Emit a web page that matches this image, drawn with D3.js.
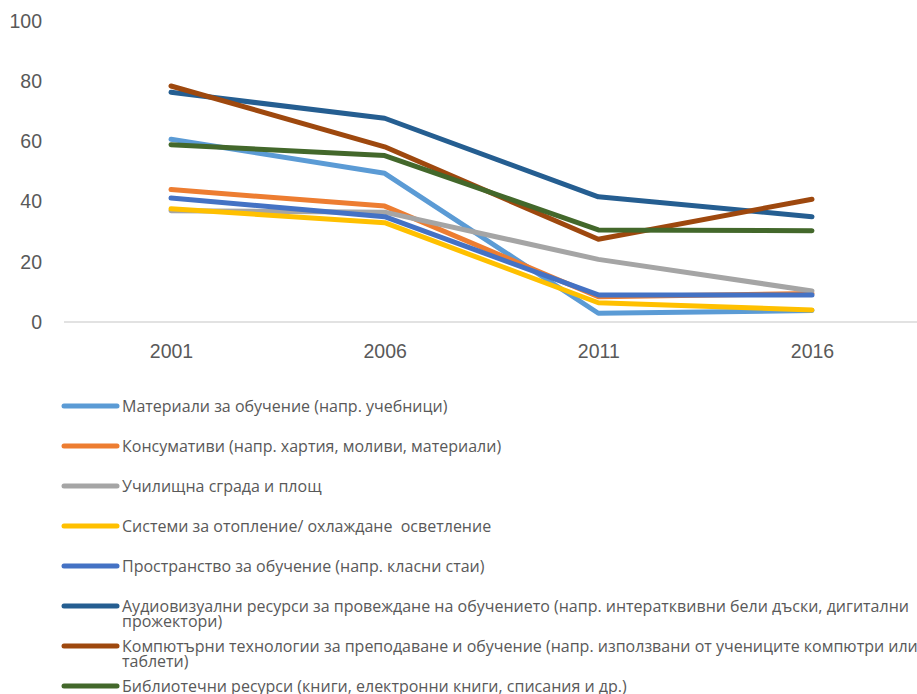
<!DOCTYPE html>
<html>
<head>
<meta charset="UTF-8">
<title>Line chart</title>
<style>
  body { margin: 0; background: #fff; }
  svg { display: block; font-family: "Open Sans", "Liberation Sans", Arial, sans-serif; }
  .axis text { fill: #595959; font-size: 19.5px; }
  .legend text { fill: #595959; font-size: 16px; white-space: pre; }
</style>
</head>
<body>
<script src="https://cdn.jsdelivr.net/npm/d3@7"></script>
<script>
// categories on the x axis
var years = ["2001", "2006", "2011", "2016"];
var yTicks = [0, 20, 40, 60, 80, 100];

// series values
var materials   = [60.7, 49.4, 2.9, 3.8];
var consumables = [44.0, 38.5, 8.4, 9.5];
var building    = [37.0, 36.5, 20.8, 10.3];
var heating     = [37.6, 33.0, 6.4, 4.0];
var space       = [41.2, 35.0, 9.0, 9.0];
var audiovisual = [76.3, 67.7, 41.6, 35.0];
var computers   = [78.4, 58.2, 27.5, 40.8];
var library     = [58.9, 55.3, 30.6, 30.3];

// legend labels (already split into lines the way the picture wraps them)
var names = [
  ["Материали за обучение (напр. учебници)"],
  ["Консумативи (напр. хартия, моливи, материали)"],
  ["Училищна сграда и площ"],
  ["Системи за отопление/ охлаждане  осветление"],
  ["Пространство за обучение (напр. класни стаи)"],
  ["Аудиовизуални ресурси за провеждане на обучението (напр. интератквивни бели дъски, дигитални", "прожектори)"],
  ["Компютърни технологии за преподаване и обучение (напр. използвани от учениците компютри или", "таблети)"],
  ["Библиотечни ресурси (книги, електронни книги, списания и др.)"]
];
var colors = ["#5b9bd5", "#ed7d31", "#a5a5a5", "#ffc000", "#4472c4", "#255e91", "#9e480e", "#43682b"];

var series = [materials, consumables, building, heating, space, audiovisual, computers, library];

var width = 917, height = 694;

var svg = d3.select("body").append("svg")
  .attr("width", width)
  .attr("height", height);

var x = d3.scalePoint()
  .domain(years)
  .range([171, 812]);

var y = d3.scaleLinear()
  .domain([0, 100])
  .range([322, 21]);

// y tick labels only, no axis line
var yAxis = d3.axisLeft(y).tickValues(yTicks).tickSize(0).tickPadding(0);
svg.append("g")
  .attr("class", "axis y")
  .attr("transform", "translate(42,0)")
  .call(yAxis)
  .call(function(g) { g.select(".domain").remove(); });

// baseline
svg.append("line")
  .attr("x1", 64).attr("x2", 917)
  .attr("y1", y(0)).attr("y2", y(0))
  .attr("stroke", "#d9d9d9")
  .attr("stroke-width", 1.5);

var xAxis = d3.axisBottom(x).tickSize(0).tickPadding(22);
svg.append("g")
  .attr("class", "axis x")
  .attr("transform", "translate(0," + y(0) + ")")
  .call(xAxis)
  .call(function(g) { g.select(".domain").remove(); });

var line = d3.line()
  .x(function(d, i) { return x(years[i]); })
  .y(function(d) { return y(d); });

svg.append("g").selectAll("path")
  .data(series)
  .join("path")
    .attr("d", line)
    .attr("fill", "none")
    .attr("stroke", function(d, i) { return colors[i]; })
    .attr("stroke-width", 5)
    .attr("stroke-linejoin", "round")
    .attr("stroke-linecap", "round");

// legend
var legendY = d3.scaleLinear().domain([0, 7]).range([406, 686]);

var item = svg.append("g").attr("class", "legend")
  .selectAll("g")
  .data(names)
  .join("g")
    .attr("transform", function(d, i) { return "translate(0," + legendY(i) + ")"; });

item.append("line")
  .attr("x1", 64).attr("x2", 117)
  .attr("stroke", function(d, i) { return colors[i]; })
  .attr("stroke-width", 5)
  .attr("stroke-linecap", "round");

item.append("text")
  .attr("x", 122)
  .attr("dy", "0.35em")
  .selectAll("tspan")
  .data(function(d) { return d; })
  .join("tspan")
    .attr("x", 122)
    .attr("y", function(d, i) { return i * 21; })
    .text(function(d) { return d; });
</script>
</body>
</html>
